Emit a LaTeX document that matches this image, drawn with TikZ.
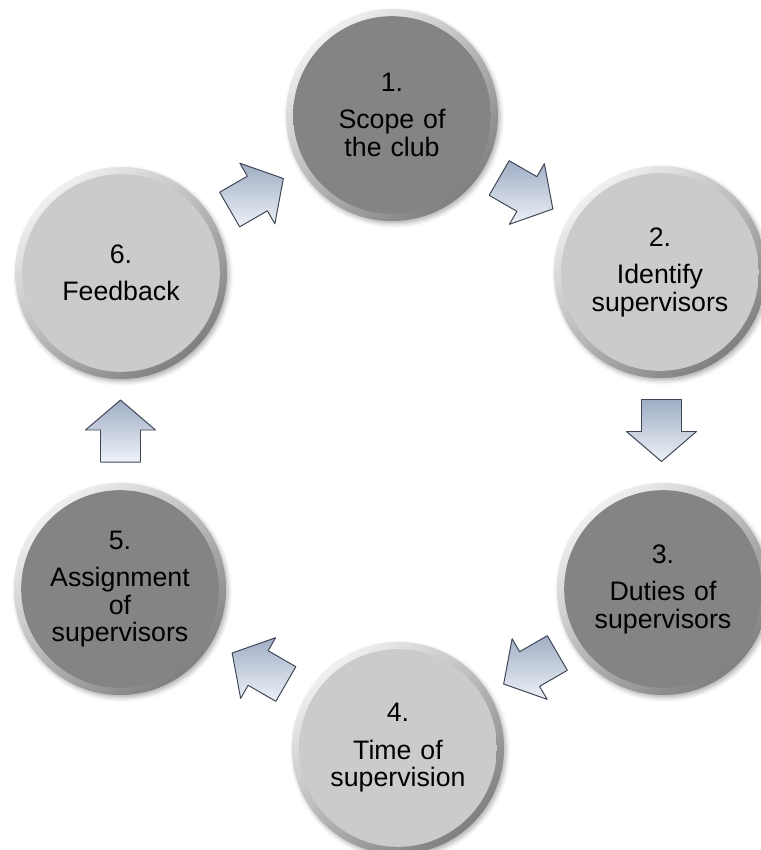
\documentclass[tikz,border=0pt]{standalone}
\usepackage{fontspec}
\setmainfont{Liberation Sans}
\usetikzlibrary{calc,shadows.blur}

\definecolor{darkface}{HTML}{848484}
\definecolor{lightface}{HTML}{CBCBCB}
\definecolor{arrowlight}{HTML}{EEF2F8}
\definecolor{arrowdark}{HTML}{9FADC4}
\definecolor{arrowedge}{HTML}{3E4656}

\pgfdeclareradialshading{darkdisc}{\pgfpoint{0bp}{0bp}}%
  {color(0bp)=(darkface); color(45bp)=(darkface); color(50bp)=(darkface!70!black)}
\pgfdeclareradialshading{lightdisc}{\pgfpoint{0bp}{0bp}}%
  {color(0bp)=(lightface); color(45bp)=(lightface); color(50bp)=(lightface!72!black)}

\begin{document}
\begin{tikzpicture}
[
	             x = 0.025cm,
	             y = -0.025cm,
	   stage/.style = { circle, minimum size=5.3cm, inner sep=0pt, text width=3.8cm, align=center,
	                    font=\fontsize{19}{19.6}\selectfont,
	                    blur shadow={shadow xshift=1.5pt, shadow yshift=-2pt, shadow blur radius=3pt, shadow opacity=30},
	                    path picture={
	                      \shade[top color=black!6, bottom color=black!50, shading angle=40]
	                        (path picture bounding box.south west) rectangle (path picture bounding box.north east);
	                      \shade[shading=#1] (path picture bounding box.center) circle (2.47cm);
	                    } },
	blockarrow/.style = { top color=arrowdark, bottom color=arrowlight, draw=arrowedge,
	                      line width=0.7pt, line join=round }
]
	\useasboundingbox (0,0) rectangle (761,850);

	% stages
	\node (s1) at (392,115) [stage=darkdisc]  {1.\\[7pt]Scope of\\the club};
	\node (s2) at (660,272) [stage=lightdisc] {2.\\[7pt]Identify\\supervisors};
	\node (s3) at (663,589) [stage=darkdisc]  {3.\\[7pt]Duties of\\supervisors};
	\node (s4) at (398,748) [stage=lightdisc] {4.\\[7pt]Time of\\supervision};
	\node (s5) at (120,589) [stage=darkdisc]  {5.\\[7pt]Assignment\\of\\supervisors};
	\node (s6) at (121,273) [stage=lightdisc] {6.\\[7pt]Feedback};

	% arrows between stages
	\foreach \from/\to/\dir in {s1/s2/-30, s2/s3/-90, s3/s4/-150, s4/s5/150, s5/s6/90, s6/s1/30}
	{
		\begin{scope}[shift={($(\from)!0.5!(\to)$)}, rotate=\dir]
			\path[blockarrow] (-31,-20) -- (1,-20) -- (1,-35) -- (31,0) -- (1,35) -- (1,20) -- (-31,20) -- cycle;
		\end{scope}
	}

\end{tikzpicture}
\end{document}
